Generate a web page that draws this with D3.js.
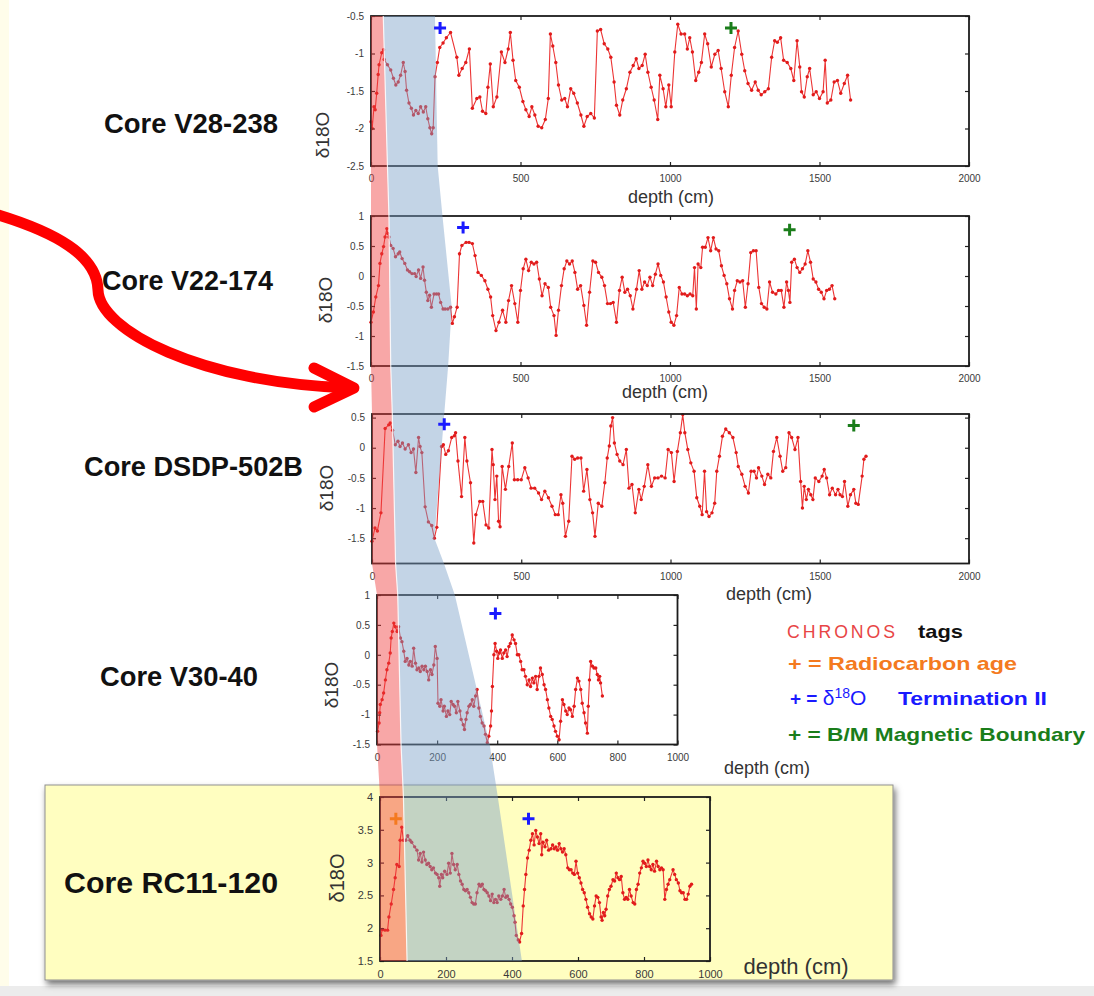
<!DOCTYPE html>
<html>
<head>
<meta charset="utf-8">
<script src="https://cdn.jsdelivr.net/npm/d3@7"></script>
<style>
  html, body { margin: 0; padding: 0; background: #ffffff; }
  svg { display: block; font-family: "Liberation Sans", Arial, Helvetica, sans-serif; }
</style>
</head>
<body>
<script>
// ---------------- data ----------------
const coreNames = ["Core V28-238", "Core V22-174", "Core DSDP-502B", "Core V30-40", "Core RC11-120"];

// δ18O records: depth (cm) and value
const depthV28 = [0,4,10,14,19,24,27,36,42,44,55,66,75,83,91,99,108,114,119,127,135,142,150,158,166,175,183,190,197,203,208,214,222,230,241,252,266,
  287,294,305,317,329,339,354,364,373,384,391,399,409,421,436,448,459,466,475,484,496,508,518,529,538,548,559,571,583,593,600,608,618,627,638,648,657,668,678,690,702,712,723,735,747,757,768,780,792,802,813,821,832,842,854,866,877,887,896,907,917,926,937,947,959,966,977,986,996,1004,1016,1026,1037,1049,1058,1066,1075,1086,1096,1105,1116,1126,1138,1150,1161,1171,1183,1195,1205,1216,1228,1240,1250,1261,1273,1285,1295,1305,1317,1329,1340,1350,1359,1370,1380,1392,1404,1414,1425,1434,1440,1449,1459,1467,1479,1489,1500,1512,1519,1526,1538,1549,1560,1571,1583,1594,1604];
const d18oV28 = [-1.91,-2.0,-1.71,-1.75,-1.53,-1.28,-1.15,-0.99,-0.95,-1.08,-1.15,-1.22,-1.33,-1.42,-1.38,-1.29,-1.12,-1.24,-1.49,-1.66,-1.73,-1.82,-1.76,-1.80,-1.71,-1.78,-1.71,-1.87,-1.99,-2.07,-1.99,-1.31,-1.12,-0.92,-0.86,-0.79,-0.72,
  -1.05,-1.29,-1.20,-1.12,-0.94,-1.73,-1.60,-1.58,-1.77,-1.80,-1.45,-1.14,-1.71,-1.58,-0.98,-1.12,-0.94,-0.72,-1.09,-1.36,-1.45,-1.64,-1.75,-1.84,-1.71,-1.82,-1.97,-1.99,-1.88,-1.60,-0.74,-0.90,-1.12,-1.42,-1.62,-1.60,-1.71,-1.47,-1.53,-1.66,-1.82,-1.97,-1.84,-1.80,-1.86,-0.70,-0.68,-0.87,-0.94,-1.05,-1.38,-1.69,-1.82,-1.62,-1.47,-1.25,-1.16,-1.07,-1.20,-1.16,-1.01,-1.25,-1.45,-1.62,-1.88,-1.29,-1.47,-1.71,-1.42,-1.71,-0.98,-0.61,-0.74,-0.74,-0.94,-0.79,-0.98,-1.36,-1.25,-1.12,-0.74,-0.87,-1.18,-1.01,-0.96,-1.20,-1.51,-1.71,-1.29,-0.92,-0.70,-1.01,-1.23,-1.40,-1.49,-1.38,-1.49,-1.55,-1.51,-1.47,-1.05,-0.83,-0.85,-0.79,-1.09,-1.12,-1.20,-1.36,-0.83,-1.18,-1.51,-1.58,-1.31,-1.20,-1.55,-1.51,-1.60,-1.51,-1.09,-1.66,-1.62,-1.38,-1.36,-1.53,-1.40,-1.29,-1.62];

const depthV22 = [0,8,16,25,30,36,42,47,53,56,60,66,74,82,91,96,104,113,122,129,137,146,151,159,166,174,179,185,190,196,202,211,219,226,233,241,248,257,266,272,279,288,296,304,318,328,339,348,358,369,381,391,400,407,418,428,440,451,460,470,481,491,500,509,518,527,536,545,554,563,572,582,593,601,612,619,627,637,646,655,664,673,682,691,701,712,721,731,742,751,761,772,781,791,801,810,821,831,840,849,858,867,876,888,897,906,915,924,933,942,951,960,969,978,987,996,1004,1013,1022,1031,1040,1049,1058,1067,1076,1082,1088,1094,1103,1109,1118,1127,1136,1145,1154,1163,1172,1181,1190,1199,1209,1216,1225,1234,1243,1252,1261,1270,1279,1288,1297,1306,1315,1324,1333,1343,1354,1363,1372,1381,1390,1396,1401,1407,1416,1425,1434,1443,1452,1461,1470,1479,1488,1497,1506,1515,1524,1533,1542,1551];
const d18oV22 = [-0.77,-0.60,-0.35,-0.16,0.21,0.37,0.49,0.65,0.79,0.71,0.65,0.51,0.46,0.32,0.37,0.40,0.29,0.21,0.10,0.07,0.04,0.04,-0.01,0.10,-0.04,0.15,-0.07,-0.27,-0.41,-0.32,-0.52,-0.30,-0.30,-0.30,-0.44,-0.55,-0.55,-0.55,-0.52,-0.79,-0.68,-0.52,0.37,0.51,0.56,0.56,0.54,0.34,0.06,0.01,-0.08,-0.22,-0.35,-0.66,-0.91,-0.77,-0.57,-0.77,-0.41,-0.16,-0.46,-0.77,-0.24,0.12,0.28,0.09,0.23,0.20,0.23,-0.05,-0.33,-0.13,-0.19,-0.52,-0.66,-0.99,-0.57,-0.16,0.12,0.25,0.20,0.25,0.06,-0.22,-0.16,-0.49,-0.82,-0.27,0.25,0.23,0.06,-0.02,-0.16,-0.46,-0.46,-0.44,-0.77,-0.24,-0.02,-0.27,-0.22,-0.33,-0.55,-0.22,0.09,-0.22,-0.10,-0.16,-0.02,-0.16,0.03,0.20,0.01,-0.10,-0.35,-0.60,-0.77,-0.82,-0.66,-0.19,-0.30,-0.30,-0.33,-0.30,-0.33,0.14,-0.55,0.20,0.14,0.48,0.48,0.64,0.42,0.64,0.45,0.42,0.17,0.01,-0.13,-0.38,-0.55,-0.24,-0.08,-0.10,-0.08,-0.52,-0.13,0.39,0.42,0.42,-0.19,-0.46,-0.52,-0.55,-0.10,-0.27,-0.30,-0.24,-0.24,-0.52,-0.10,-0.24,-0.44,0.23,0.28,0.14,0.06,0.12,0.20,0.42,0.23,-0.05,-0.10,-0.22,-0.27,-0.38,-0.24,-0.22,-0.16,-0.38];

const depthDSDP = [0,10,18,30,44,56,61,69,78,87,94,102,111,122,131,139,147,156,161,167,178,189,200,209,217,233,239,247,256,267,276,280,288,300,311,318,330,341,348,361,371,382,391,402,406,412,418,424,429,436,447,458,470,477,488,500,512,523,533,545,558,568,579,591,603,614,624,633,639,648,659,670,679,689,700,709,720,730,739,747,758,770,780,788,795,800,806,812,821,830,841,852,861,871,882,894,902,912,924,936,947,958,970,982,992,1003,1012,1023,1033,1041,1048,1058,1068,1079,1088,1098,1106,1114,1121,1129,1139,1148,1155,1164,1174,1185,1197,1209,1220,1227,1239,1250,1261,1270,1280,1288,1295,1306,1315,1326,1336,1345,1356,1367,1376,1386,1397,1406,1417,1427,1436,1442,1448,1455,1462,1470,1477,1485,1497,1508,1515,1523,1533,1542,1553,1561,1568,1576,1583,1594,1603,1614,1621,1629,1642,1648,1655];
const d18oDSDP = [-1.55,-1.33,-1.38,-1.08,0.32,0.38,0.41,0.29,0.05,0.11,0.02,0.08,-0.02,0.05,-0.08,-0.02,-0.41,0.17,0.02,-0.08,-0.98,-1.23,-1.29,-1.50,-1.32,0.02,0.05,-0.11,-0.05,0.17,0.20,0.25,-0.22,-0.81,0.17,-0.22,-0.58,-1.58,-1.11,-0.89,-0.89,-1.28,-1.33,-0.03,-0.28,-0.86,-0.47,-1.22,-1.31,-0.31,-0.69,-0.31,0.08,-0.53,-0.53,-0.53,-0.33,-0.50,-0.67,-0.67,-0.75,-0.86,-0.72,-0.83,-0.97,-1.11,-1.11,-0.78,-0.92,-1.47,-1.22,-0.14,-0.19,-0.17,-0.17,-0.72,-0.36,-0.86,-1.08,-1.47,-0.92,-0.97,-0.58,-0.17,0.03,0.36,0.50,0.08,-0.11,-0.22,-0.28,-0.03,-0.67,-0.61,-1.08,-0.69,-0.86,-0.64,-0.28,-0.64,-0.50,-0.50,-0.47,-0.50,-0.03,-0.08,-0.56,-0.06,0.25,0.55,0.25,-0.03,-0.25,-0.39,-0.83,-0.97,-1.11,-0.39,-1.06,-1.14,-1.08,-0.92,-0.39,-0.14,0.19,0.31,0.25,0.17,-0.08,-0.31,-0.44,-0.64,-0.75,-0.39,-0.39,-0.50,-0.33,-0.47,-0.61,-0.44,-0.50,-0.06,0.17,-0.14,-0.39,-0.33,0.25,0.17,-0.03,0.17,-0.56,-1.00,-0.64,-0.86,-0.69,-0.78,-0.86,-0.50,-0.56,-0.47,-0.36,-0.50,-0.78,-0.67,-0.78,-0.69,-0.78,-0.81,-0.56,-0.97,-0.78,-0.69,-0.92,-0.94,-0.47,-0.19,-0.14];

const depthV30 = [2,7,9,11,17,22,28,33,39,44,47,51,56,61,67,72,78,83,89,94,100,106,111,117,122,128,133,139,144,150,156,161,167,172,178,183,189,194,200,203,209,213,220,224,231,236,242,247,253,258,264,269,276,280,287,291,296,300,306,311,317,322,328,333,339,344,350,356,361,367,372,378,381,384,389,393,398,402,407,411,417,422,428,433,439,444,450,456,461,467,472,478,483,489,494,500,506,511,517,522,528,533,539,544,550,556,561,567,572,578,583,589,594,600,606,611,617,622,628,633,639,644,650,656,661,667,672,678,683,689,694,700,703,707,711,717,722,728,733,737,741,744,750];
const d18oV30 = [-1.28,-1.14,-0.97,-0.83,-0.75,-0.64,-0.42,-0.25,-0.14,0.03,0.28,0.39,0.53,0.47,0.39,0.47,0.28,0.22,0.06,-0.11,-0.06,-0.17,-0.11,-0.19,0.11,-0.14,-0.25,-0.22,-0.28,-0.19,-0.25,-0.19,-0.28,-0.42,-0.25,-0.33,-0.17,0.14,-0.06,-0.81,-0.86,-0.75,-0.94,-0.86,-1.03,-0.94,-1.00,-0.78,-0.83,-0.86,-0.97,-0.78,-0.94,-1.08,-1.17,-1.25,-1.08,-0.97,-0.86,-0.83,-0.75,-0.86,-0.69,-0.58,-0.89,-1.03,-1.14,-1.19,-1.33,-1.47,-1.36,-1.19,-0.94,-0.53,0.0,0.19,0.06,-0.06,0.03,0.08,-0.06,0.03,0.08,-0.03,0.14,0.19,0.33,0.25,0.19,0.0,0.0,-0.11,-0.25,-0.25,-0.36,-0.50,-0.42,-0.53,-0.39,-0.47,-0.36,-0.58,-0.36,-0.22,-0.33,-0.50,-0.58,-0.75,-0.89,-1.03,-1.08,-1.19,-1.28,-1.36,-1.42,-1.11,-0.75,-0.83,-0.94,-1.00,-0.89,-0.92,-1.03,-0.86,-0.58,-0.39,-0.44,-0.58,-0.81,-0.97,-1.14,-1.31,-0.86,-0.42,-0.11,-0.19,-0.22,-0.22,-0.33,-0.42,-0.36,-0.47,-0.69];

const depthRC11 = [3,7,15,23,27,34,41,46,51,58,61,66,71,78,84,91,96,105,112,117,122,127,132,137,142,147,152,157,162,168,173,178,181,186,190,196,203,208,213,218,223,228,234,239,244,249,254,259,264,269,274,279,284,289,294,300,305,310,315,320,325,330,335,340,345,350,355,360,366,371,376,381,386,391,396,401,406,409,413,419,423,429,434,438,442,447,452,457,462,467,472,477,482,487,490,494,500,505,511,518,523,528,533,538,543,548,553,558,563,569,574,579,584,589,594,599,604,609,614,619,624,629,635,640,645,650,655,660,665,670,673,677,681,685,690,695,700,706,711,716,721,726,731,736,741,746,751,756,761,767,772,777,782,787,792,797,802,807,812,817,822,827,832,838,843,848,853,858,863,868,873,878,888,893,898,904,909,914,919,924,929,934,939,944];
const d18oRC11 = [1.89,1.98,1.97,1.97,2.17,2.37,2.59,2.77,2.97,2.94,3.34,3.54,3.34,3.34,3.41,3.34,3.31,3.24,3.19,3.04,3.14,3.01,3.16,3.04,2.97,2.99,2.94,2.89,2.92,2.84,2.82,2.77,2.64,2.82,2.77,2.87,2.82,2.99,2.84,3.14,2.97,2.89,2.97,2.82,2.72,2.67,2.59,2.57,2.59,2.54,2.47,2.39,2.37,2.37,2.54,2.67,2.64,2.67,2.59,2.57,2.54,2.49,2.42,2.52,2.39,2.44,2.39,2.49,2.44,2.49,2.59,2.47,2.49,2.44,2.37,2.32,2.19,2.09,1.89,1.82,1.79,1.92,2.34,2.59,2.82,3.07,3.19,3.34,3.44,3.27,3.49,3.39,3.29,3.44,3.12,3.31,3.24,3.34,3.19,3.21,3.27,3.21,3.24,3.19,3.29,3.21,3.16,3.21,3.12,2.92,2.89,2.89,2.84,2.82,3.02,2.84,2.77,2.69,2.59,2.54,2.44,2.32,2.22,2.17,2.14,2.34,2.49,2.47,2.39,2.17,2.12,2.24,2.19,2.29,2.49,2.59,2.64,2.74,2.72,2.84,2.77,2.74,2.79,2.54,2.44,2.47,2.44,2.59,2.49,2.39,2.37,2.59,2.67,2.84,2.92,3.02,2.99,2.94,3.04,2.94,2.89,2.97,2.87,3.02,2.94,2.89,2.92,2.89,2.44,2.59,2.67,2.74,2.89,2.82,2.74,2.69,2.57,2.54,2.54,2.44,2.44,2.52,2.64,2.67];

// axis ticks
const xTicksLong = [0, 500, 1000, 1500, 2000];
const xTicksShort = [0, 200, 400, 600, 800, 1000];
const yTicksV28 = [-2.5, -2, -1.5, -1, -0.5];
const yTicksV22 = [-1.5, -1, -0.5, 0, 0.5, 1];
const yTicksDSDP = [-1.5, -1, -0.5, 0, 0.5];
const yTicksV30 = [-1.5, -1, -0.5, 0, 0.5, 1];
const yTicksRC11 = [1.5, 2, 2.5, 3, 3.5, 4];

// CHRONOS tags: [depth, value] per core (null = none)
const termIITag = [[231, -0.66], [308, 0.81], [242, 0.39], [394, 0.69], [450, 3.67]];
const bmTag = [[1204, -0.66], [1400, 0.77], [1614, 0.37], null, null];
const radiocarbonTag = [null, null, null, null, [48, 3.67]];

// correlation bands: depth of the Holocene edge at the top / bottom of each core
const holoceneEdgeTop = [41, 60, 68, 69, 71];
const holoceneEdgeBottom = [55, 66, 79, 80, 82];
// Termination II edge: core index, depth, δ18O level
const termEdgeCore = [0, 0, 1, 1, 1, 2, 2, 2, 3, 3, 4, 4];
const termEdgeDepth = [214, 223, 239, 270, 258, 242, 209, 241, 259, 375, 357, 430];
const termEdgeLevel = ["top", "bottom", "top", -0.52, "bottom", "top", -1.5, "bottom", "top", "bottom", "top", "bottom"];

// ---------------- layout ----------------
const W = 1094, H = 996;
const panels = [
  { x0: 371, x1: 969, y0: 16,  y1: 166, xDomain: [0, 2000], yDomain: [-2.5, -0.5], xTicks: xTicksLong,  yTicks: yTicksV28,
    depth: depthV28, val: d18oV28, tickFont: 10, yLab: [322, 135], xLab: [671, 203, 18], name: [104, 133, 27, 174] },
  { x0: 371, x1: 969, y0: 216, y1: 366, xDomain: [0, 2000], yDomain: [-1.5, 1], xTicks: xTicksLong, yTicks: yTicksV22,
    depth: depthV22, val: d18oV22, tickFont: 10, yLab: [325, 300], xLab: [665, 398, 18], name: [102, 290, 27, 171] },
  { x0: 372, x1: 969, y0: 414, y1: 563.5, xDomain: [0, 2000], yDomain: [-1.92, 0.56], xTicks: xTicksLong, yTicks: yTicksDSDP,
    depth: depthDSDP, val: d18oDSDP, tickFont: 10, yLab: [326, 488], xLab: [769, 600, 18], name: [84, 476, 27, 219] },
  { x0: 377, x1: 677.5, y0: 595, y1: 744.5, xDomain: [0, 1000], yDomain: [-1.5, 1], xTicks: xTicksShort, yTicks: yTicksV30,
    depth: depthV30, val: d18oV30, tickFont: 10, yLab: [331, 685], xLab: [767, 774, 18], name: [100, 686, 27, 158] },
  { x0: 380, x1: 710, y0: 797, y1: 961, xDomain: [0, 1000], yDomain: [1.5, 4], xTicks: xTicksShort, yTicks: yTicksRC11,
    depth: depthRC11, val: d18oRC11, tickFont: 11, yLab: [337, 878], xLab: [796, 974, 22], name: [64, 893, 30, 214] }
];

const svg = d3.select("body").append("svg")
  .attr("width", W).attr("height", H).attr("viewBox", `0 0 ${W} ${H}`);

const defs = svg.append("defs");
const shadow = defs.append("filter").attr("id", "boxShadow")
  .attr("x", "-5%").attr("y", "-10%").attr("width", "110%").attr("height", "130%");
shadow.append("feDropShadow").attr("dx", 2).attr("dy", 4).attr("stdDeviation", 3)
  .attr("flood-color", "#000").attr("flood-opacity", 0.55);

// page background
svg.append("rect").attr("width", W).attr("height", H).attr("fill", "#ffffff");
svg.append("rect").attr("x", 0).attr("y", 0).attr("width", 9).attr("height", H).attr("fill", "#fffdea");
svg.append("rect").attr("x", 0).attr("y", 986).attr("width", W).attr("height", 10).attr("fill", "#ececec");

// highlighted core box
svg.append("rect").attr("x", 45).attr("y", 785).attr("width", 848).attr("height", 195)
  .attr("fill", "#fffec0").attr("stroke", "#8f8f8f").attr("stroke-width", 1)
  .attr("filter", "url(#boxShadow)");

// scales per core
panels.forEach(p => {
  p.x = d3.scaleLinear().domain(p.xDomain).range([p.x0, p.x1]);
  p.y = d3.scaleLinear().domain(p.yDomain).range([p.y1, p.y0]);
});

const fmt = d => String(d);

panels.forEach((p, i) => {
  const g = svg.append("g").attr("class", "core-" + i);
  const pts = p.depth.map((d, k) => [d, p.val[k]]);

  // record line and samples
  g.append("path").datum(pts)
    .attr("fill", "none").attr("stroke", "#ec3434").attr("stroke-width", 1.1)
    .attr("d", d3.line().x(d => p.x(d[0])).y(d => p.y(d[1])));
  g.selectAll("circle.s").data(pts).join("circle").attr("class", "s")
    .attr("cx", d => p.x(d[0])).attr("cy", d => p.y(d[1])).attr("r", 1.7)
    .attr("fill", "#e11b1b");

  // axes with inward ticks on all sides
  const styleAxis = (sel) => {
    sel.select(".domain").remove();
    sel.selectAll("line").attr("stroke", "#222").attr("stroke-width", 1.2);
    sel.selectAll("text").attr("fill", "#3a3a3a").attr("font-size", p.tickFont)
      .attr("font-family", "'Liberation Sans', Arial, sans-serif");
  };
  g.append("g").attr("transform", `translate(0,${p.y1})`)
    .call(d3.axisBottom(p.x).tickValues(p.xTicks).tickFormat(fmt).tickSizeInner(-4).tickSizeOuter(0).tickPadding(9))
    .call(styleAxis);
  g.append("g").attr("transform", `translate(0,${p.y0})`)
    .call(d3.axisTop(p.x).tickValues(p.xTicks).tickFormat("").tickSizeInner(-4).tickSizeOuter(0))
    .call(styleAxis);
  g.append("g").attr("transform", `translate(${p.x0},0)`)
    .call(d3.axisLeft(p.y).tickValues(p.yTicks).tickFormat(fmt).tickSizeInner(-4).tickSizeOuter(0).tickPadding(7))
    .call(styleAxis);
  g.append("g").attr("transform", `translate(${p.x1},0)`)
    .call(d3.axisRight(p.y).tickValues(p.yTicks).tickFormat("").tickSizeInner(-4).tickSizeOuter(0))
    .call(styleAxis);

  // frame
  g.append("rect").attr("x", p.x0).attr("y", p.y0)
    .attr("width", p.x1 - p.x0).attr("height", p.y1 - p.y0)
    .attr("fill", "none").attr("stroke", "#1c1c1c").attr("stroke-width", 1.8);

  // axis titles
  g.append("text").attr("transform", `translate(${p.yLab[0]},${p.yLab[1]}) rotate(-90)`)
    .attr("text-anchor", "middle").attr("dy", "0.35em")
    .attr("font-size", i === 4 ? 20 : 19).attr("fill", "#333").text("δ18O");
  g.append("text").attr("x", p.xLab[0]).attr("y", p.xLab[1])
    .attr("text-anchor", "middle").attr("font-size", p.xLab[2]).attr("fill", "#333").text("depth (cm)");
});

// ---------------- correlation bands ----------------
const level = (p, lv) => lv === "top" ? p.yDomain[1] : lv === "bottom" ? p.yDomain[0] : lv;
const zeroEdge = [], holoEdge = [], termEdge = [];
panels.forEach((p, i) => {
  zeroEdge.push([p.x(0), p.y0], [p.x(0), p.y1]);
  holoEdge.push([p.x(holoceneEdgeTop[i]), p.y0], [p.x(holoceneEdgeBottom[i]), p.y1]);
});
termEdgeCore.forEach((c, k) => {
  const p = panels[c];
  termEdge.push([p.x(termEdgeDepth[k]), p.y(level(p, termEdgeLevel[k]))]);
});
const poly = d3.line();
svg.append("path").attr("d", poly(zeroEdge.concat(holoEdge.slice().reverse())) + "Z")
  .attr("fill", "rgb(240,60,60)").attr("fill-opacity", 0.45);
svg.append("path").attr("d", poly(holoEdge.concat(termEdge.slice().reverse())) + "Z")
  .attr("fill", "rgb(122,160,200)").attr("fill-opacity", 0.45);
svg.append("path").attr("d", poly(holoEdge))
  .attr("fill", "none").attr("stroke", "#ffffff").attr("stroke-width", 1.2).attr("stroke-opacity", 0.85);

// ---------------- CHRONOS tag markers ----------------
function plus(x, y, color) {
  svg.append("path").attr("d", `M${x - 6},${y}H${x + 6}M${x},${y - 6}V${y + 6}`)
    .attr("stroke", color).attr("stroke-width", 3).attr("fill", "none");
}
panels.forEach((p, i) => {
  if (termIITag[i]) plus(p.x(termIITag[i][0]), p.y(termIITag[i][1]), "#1a1aff");
  if (bmTag[i]) plus(p.x(bmTag[i][0]), p.y(bmTag[i][1]), "#1a7d1a");
  if (radiocarbonTag[i]) plus(p.x(radiocarbonTag[i][0]), p.y(radiocarbonTag[i][1]), "#f47a20");
});

// ---------------- core names ----------------
panels.forEach((p, i) => {
  svg.append("text").attr("x", p.name[0]).attr("y", p.name[1])
    .attr("font-size", p.name[2]).attr("font-weight", "bold").attr("fill", "#111")
    .attr("textLength", p.name[3]).attr("lengthAdjust", "spacingAndGlyphs")
    .text(coreNames[i]);
});

// ---------------- legend ----------------
const lg = svg.append("g");
lg.append("text").attr("x", 787).attr("y", 638).attr("font-size", 18).attr("fill", "#e84545")
  .attr("letter-spacing", 3).attr("textLength", 111).attr("lengthAdjust", "spacingAndGlyphs").text("CHRONOS");
lg.append("text").attr("x", 918).attr("y", 638).attr("font-size", 19).attr("font-weight", "bold")
  .attr("fill", "#111").attr("textLength", 45).attr("lengthAdjust", "spacingAndGlyphs").text("tags");
lg.append("text").attr("x", 788).attr("y", 670).attr("font-size", 19).attr("font-weight", "bold")
  .attr("fill", "#f47a20").attr("textLength", 229).attr("lengthAdjust", "spacingAndGlyphs").text("+ = Radiocarbon age");
const l3 = lg.append("text").attr("x", 790).attr("y", 705).attr("font-size", 19).attr("fill", "#1a1aff");
l3.append("tspan").attr("font-weight", "bold").text("+ = ");
l3.append("tspan").attr("font-size", 21).text("δ");
l3.append("tspan").attr("font-size", 14).attr("dy", -7).text("18");
l3.append("tspan").attr("font-size", 21).attr("dy", 7).text("O");
lg.append("text").attr("x", 898).attr("y", 705).attr("font-size", 19).attr("font-weight", "bold")
  .attr("fill", "#1a1aff").attr("textLength", 149).attr("lengthAdjust", "spacingAndGlyphs").text("Termination II");
lg.append("text").attr("x", 788).attr("y", 741).attr("font-size", 19).attr("font-weight", "bold")
  .attr("fill", "#1a7d1a").attr("textLength", 297).attr("lengthAdjust", "spacingAndGlyphs").text("+ = B/M Magnetic Boundary");

// ---------------- pointer arrow ----------------
svg.append("path")
  .attr("d", "M-5,214 C55,232 97,255 98,290 C99,330 200,383 350,388")
  .attr("fill", "none").attr("stroke", "#ff0000").attr("stroke-width", 11).attr("stroke-linecap", "round");
svg.append("path")
  .attr("d", "M314,368 L354,388 L314,407")
  .attr("fill", "none").attr("stroke", "#ff0000").attr("stroke-width", 11)
  .attr("stroke-linecap", "round").attr("stroke-linejoin", "round");
</script>
</body>
</html>
